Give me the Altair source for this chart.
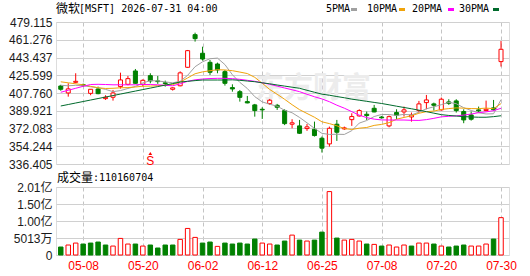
import altair as alt
import pandas as pd
import numpy as np

# ---------------- data ----------------
dates = ["05-05","05-06","05-07","05-08","05-11","05-12","05-13","05-14","05-15","05-18",
         "05-19","05-20","05-21","05-22","05-26","05-27","05-28","05-29","06-01","06-02",
         "06-03","06-04","06-05","06-08","06-09","06-10","06-11","06-12","06-15","06-16",
         "06-17","06-18","06-22","06-23","06-24","06-25","06-26","06-29","06-30","07-01",
         "07-02","07-06","07-07","07-08","07-09","07-10","07-13","07-14","07-15","07-16",
         "07-17","07-20","07-21","07-22","07-23","07-24","07-27","07-28","07-29","07-30"]

opens  = [414.8,407.8,418.5,416.2,407.4,411.8,402.1,403.5,414.2,416.5,
          429.9,416.5,425.2,419.9,418.0,411.5,415.0,433.6,466.4,447.7,
          438.6,436.9,429.2,413.2,409.1,399.1,395.8,391.4,397.1,395.4,
          390.1,376.4,374.7,372.0,371.3,362.3,356.6,376.4,371.7,381.0,
          384.7,386.4,392.4,383.6,374.7,388.1,388.7,383.7,390.1,398.1,
          396.8,390.8,398.8,399.8,389.1,385.7,390.8,390.1,392.8,439.3]
highs  = [416.0,417.5,427.6,417.2,411.5,414.2,405.5,410.8,428.2,424.9,
          431.9,421.5,427.6,424.9,420.2,413.5,429.5,451.0,468.4,454.3,
          440.9,438.3,430.9,416.5,410.8,404.8,396.8,393.4,401.8,396.8,
          391.4,381.4,380.7,376.7,379.0,364.0,374.0,380.7,374.0,387.4,
          391.4,389.1,395.8,384.7,385.1,391.4,394.1,388.1,399.8,405.8,
          398.1,403.2,401.5,401.5,391.4,389.1,394.1,400.1,400.8,460.0]
lows   = [410.0,404.1,417.5,414.0,405.5,406.5,400.8,400.1,412.2,415.5,
          416.9,414.2,417.5,416.9,414.2,410.2,414.5,433.0,459.4,440.3,
          425.9,427.6,415.2,409.1,399.1,397.4,384.0,381.7,395.8,390.8,
          375.5,372.3,366.6,369.7,364.0,347.9,353.9,359.6,370.7,374.7,
          384.1,380.7,388.4,382.0,373.3,381.4,384.1,379.0,388.1,391.4,
          390.1,390.1,395.8,388.1,377.4,380.0,388.1,389.5,390.1,434.3]
closes = [411.5,411.9,419.5,415.5,411.5,407.1,403.5,407.8,420.9,422.2,
          417.5,420.5,419.9,419.2,417.3,412.9,428.0,450.3,462.4,441.9,
          428.6,430.9,417.5,411.8,403.4,397.8,390.1,390.8,400.5,393.4,
          377.0,377.8,367.3,373.7,365.0,352.3,372.3,368.3,372.7,384.1,
          390.1,385.1,388.7,382.8,384.0,385.4,390.8,385.7,396.8,400.8,
          395.4,401.5,397.4,390.1,380.7,381.4,389.8,391.4,391.0,451.7]
volumes = [23500000,29400000,35200000,32300000,35200000,38200000,29400000,26400000,48900000,32300000,
           32300000,26400000,29400000,20600000,29400000,29400000,46000000,78300000,51900000,35200000,
           38200000,25400000,35200000,32300000,35200000,32300000,47000000,35200000,32300000,29400000,
           41100000,58700000,44000000,41100000,44000000,67500000,187000000,49900000,44000000,46000000,
           41100000,32300000,31300000,26400000,29400000,23500000,29400000,26400000,35200000,35200000,
           32300000,26400000,23500000,26400000,29400000,26400000,26400000,32300000,47000000,110160704]

ma5  = [415.5,415.0,415.5,415.0,414.0,413.1,411.4,409.1,410.2,412.3,
        414.4,417.8,420.2,419.9,418.9,418.0,419.5,425.5,434.2,439.1,
        442.2,442.8,436.3,426.1,418.4,412.3,404.1,398.8,396.5,394.5,
        390.4,387.9,383.2,377.8,372.2,367.2,366.1,366.3,366.1,369.9,
        377.5,380.1,384.1,386.2,386.1,385.2,386.3,385.7,388.5,391.9,
        393.9,396.0,398.4,397.0,393.0,390.2,387.9,386.7,386.9,401.1]
ma10 = [419.0,418.0,417.0,416.0,414.5,413.0,412.3,412.5,413.0,413.2,
        413.8,414.6,414.7,415.1,415.6,416.2,418.7,422.9,427.1,429.0,
        430.1,431.2,430.9,430.2,428.8,427.3,423.5,417.6,411.3,406.5,
        401.4,396.0,391.0,387.2,383.4,378.8,377.0,374.8,372.0,371.1,
        372.4,373.1,375.2,376.2,378.0,381.4,383.2,384.9,387.4,389.0,
        389.6,391.2,392.1,392.8,392.5,392.1,392.0,392.6,392.0,397.1]
ma20 = [408.5,410.5,412.5,414.5,416.3,416.5,416.3,416.0,416.0,416.0,
        416.0,416.3,416.3,416.0,415.5,415.0,417.0,419.5,421.0,421.8,
        422.3,422.5,422.5,422.2,421.5,420.5,419.5,418.0,416.5,414.7,
        412.8,411.0,409.1,406.5,404.0,401.8,399.0,395.5,392.5,389.0,
        385.5,383.0,381.5,380.7,380.6,380.6,380.6,380.3,380.2,381.0,
        382.3,383.8,384.3,384.8,385.6,386.6,388.0,388.8,390.0,392.4]
ma30 = [394.7,396.2,397.7,399.2,400.7,402.2,403.7,405.2,406.7,408.2,
        409.7,411.2,412.7,414.2,415.7,417.2,418.8,419.5,420.2,420.8,
        420.8,420.8,420.8,421.0,420.5,419.8,419.1,418.0,417.0,415.8,
        414.7,413.6,412.5,410.5,408.5,406.6,405.5,404.2,403.0,401.6,
        400.5,399.4,398.3,397.2,395.9,394.5,393.2,391.9,390.5,389.0,
        387.5,386.0,385.2,384.6,384.0,383.7,383.4,383.4,384.0,384.9]

ma_names = ["5PMA", "10PMA", "20PMA", "30PMA"]
ma_colors = ["#a0a0a0", "#f0a30a", "#ff00ff", "#006a2c"]

label_dates = ["05-08", "05-20", "06-02", "06-12", "06-25", "07-08", "07-20", "07-30"]
price_ticks = [336.405, 354.244, 372.083, 389.921, 407.760, 425.599, 443.437, 461.276, 479.115]
vol_ticks = [0, 50130000, 100260000, 150390000, 200520000]

signal_dates = ["05-21"]
signal_text = ["S"]

title_name = "微软"
title_rest = "[MSFT] 2026-07-31 04:00"
vol_title = "成交量"
watermark = "东方财富"

# ---------------- tables ----------------
n = len(dates)
df = pd.DataFrame({"i": np.arange(n), "date": dates, "open": opens, "high": highs,
                   "low": lows, "close": closes, "volume": volumes})
df["prev"] = df["close"].shift(1).fillna(df["open"])
df["cdir"] = np.where(df["close"] >= df["open"], "up", "down")
df["vdir"] = np.where(df["close"] >= df["prev"], "up", "down")
df["xa"] = df["i"] - 0.27
df["xb"] = df["i"] + 0.27
df["va"] = df["i"] - 0.3
df["vb"] = df["i"] + 0.3

ma_df = pd.concat([
    pd.DataFrame({"i": np.arange(n), "series": name, "v": vals})
    for name, vals in zip(ma_names, [ma5, ma10, ma20, ma30])
])

tick_idx = [dates.index(d) for d in label_dates]
sig_df = pd.DataFrame({"i": [dates.index(d) for d in signal_dates], "t": signal_text})

# ---------------- styling ----------------
W, H1, H2 = 453, 142, 68
NUMFONT = "Liberation Sans, Arial, Noto Sans CJK SC"
MONO = "DejaVu Sans Mono"
CJK = "Noto Sans CJK SC"
GRID = "#d0d0d0"

xscale = alt.Scale(domain=[-0.64, 60.07], nice=False, zero=False)
pscale = alt.Scale(domain=[336.405, 479.115], nice=False, zero=False)
vscale = alt.Scale(domain=[0, 200520000], nice=False, zero=False)
stroke_scale = alt.Scale(domain=["up", "down"], range=["#ff0000", "#008000"])
fill_scale = alt.Scale(domain=["up", "down"], range=["#ffffff", "#008000"])

x_top = alt.Axis(values=tick_idx, labels=False, ticks=False, domain=False, grid=True,
                 gridDash=[4, 3], gridColor="#c4c4c4", title=None)
js_dates = "[" + ",".join("'%s'" % d for d in dates) + "]"
x_bot = alt.Axis(values=tick_idx, labelExpr=js_dates + "[datum.value]", ticks=False,
                 domain=False, grid=True, gridDash=[4, 3], gridColor="#c4c4c4", title=None,
                 labelColor="#ff0000", labelFont=NUMFONT, labelFontSize=12, labelPadding=5)
y_price = alt.Axis(values=price_ticks, format=".3f", ticks=False, domain=False, grid=True,
                   gridColor=GRID, labelPadding=4, labelFont=NUMFONT, labelFontSize=12,
                   labelColor="#1a1a1a", title=None)
y_vol = alt.Axis(values=vol_ticks, ticks=False, domain=False, grid=True, gridColor=GRID,
                 labelPadding=4, labelFont=NUMFONT, labelFontSize=12, labelColor="#1a1a1a",
                 title=None,
                 labelExpr="datum.value == 0 ? '0' : (datum.value < 1e8 ? format(datum.value/1e4, 'd') + '万' : format(datum.value/1e8, '.2f') + '亿')")

one = pd.DataFrame({"a": [0]})


def label(text, x, y, font, size, color="#000000", weight="normal", opacity=1):
    return alt.Chart(pd.DataFrame({"t": [text]})).mark_text(
        align="left", baseline="middle", font=font, fontSize=size, color=color,
        fontWeight=weight, opacity=opacity).encode(
        x=alt.value(x), y=alt.value(y), text="t:N")


# ---------------- price panel ----------------
wm = label(watermark, 199, 67, CJK, 29, color="#ececec", weight="bold")

base = alt.Chart(df)
wick = base.mark_rule(strokeWidth=1).encode(
    x=alt.X("i:Q", scale=xscale, axis=x_top),
    y=alt.Y("low:Q", scale=pscale, axis=y_price),
    y2="high:Q",
    stroke=alt.Stroke("cdir:N", scale=stroke_scale, legend=None),
)
body = base.mark_rect(strokeWidth=1).encode(
    x=alt.X("xa:Q", scale=xscale, axis=x_top),
    x2="xb:Q",
    y=alt.Y("open:Q", scale=pscale, axis=y_price),
    y2="close:Q",
    stroke=alt.Stroke("cdir:N", scale=stroke_scale, legend=None),
    fill=alt.Fill("cdir:N", scale=fill_scale, legend=None),
)
lines = alt.Chart(ma_df).mark_line(strokeWidth=1).encode(
    x=alt.X("i:Q", scale=xscale, axis=x_top),
    y=alt.Y("v:Q", scale=pscale, axis=y_price),
    color=alt.Color("series:N", scale=alt.Scale(domain=ma_names, range=ma_colors), legend=None),
)
sig_tri = alt.Chart(sig_df).mark_point(shape="triangle-up", filled=True, size=14,
                                       color="#ff0000", opacity=1).encode(
    x=alt.X("i:Q", scale=xscale, axis=x_top), y=alt.value(131.5))
sig_txt = alt.Chart(sig_df).mark_text(color="#ff0000", font=NUMFONT, fontSize=12,
                                      baseline="middle", align="center").encode(
    x=alt.X("i:Q", scale=xscale, axis=x_top), y=alt.value(138.5), text="t:N")

anchor = alt.Chart(one).mark_rule(opacity=0, strokeWidth=1).encode(
    x=alt.value(-55.5), y=alt.value(-21.5), y2=alt.value(-20))

heads = [label(title_name, 0, -13.5, CJK, 12), label(title_rest, 23, -13.5, MONO, 10)]

leg_x = [270, 311, 356, 403]
sw_x = [295, 343, 392, 437]
for name, col, lx, sx in zip(ma_names, ma_colors, leg_x, sw_x):
    heads.append(label(name, lx, -13, MONO, 10))
    heads.append(alt.Chart(one).mark_rule(strokeWidth=3, color=col).encode(
        x=alt.value(sx), x2=alt.value(sx + 6), y=alt.value(-12.5)))

price = alt.layer(wm, wick, body, lines, sig_tri, sig_txt, anchor, *heads).properties(
    width=W, height=H1)

# ---------------- volume panel ----------------
vbars = alt.Chart(df).mark_rect(strokeWidth=1).encode(
    x=alt.X("va:Q", scale=xscale, axis=x_bot),
    x2="vb:Q",
    y=alt.Y("volume:Q", scale=vscale, axis=y_vol),
    y2=alt.datum(0),
    stroke=alt.Stroke("vdir:N", scale=stroke_scale, legend=None),
    fill=alt.Fill("vdir:N", scale=fill_scale, legend=None),
)
vlabels = [label(vol_title, 1, -9, CJK, 12), label(":" + str(volumes[-1]), 37, -9, MONO, 10)]

vol = alt.layer(vbars, *vlabels).properties(width=W, height=H2)

chart = alt.vconcat(price, vol, spacing=23, bounds="flush").properties(
    padding={"left": 0, "top": 0, "right": 0, "bottom": 0}
).configure_view(stroke="#999999", strokeWidth=1).configure(background="#ffffff")

chart.save("out.html", embed_options={"renderer": "svg", "actions": False})
